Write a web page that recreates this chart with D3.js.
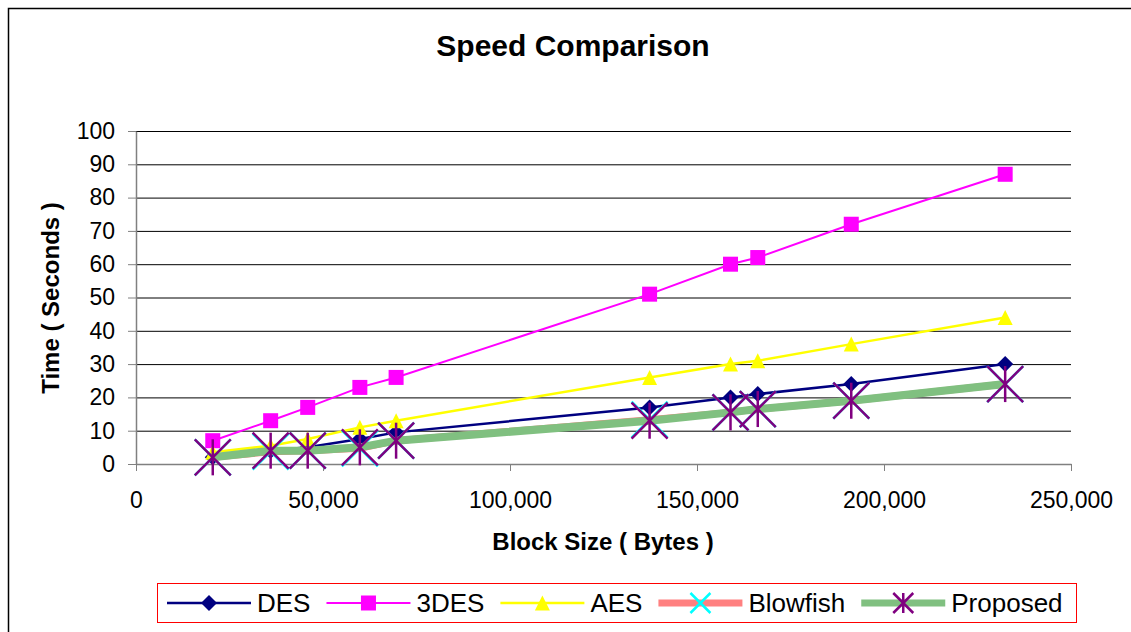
<!DOCTYPE html>
<html>
<head>
<meta charset="utf-8">
<script src="https://cdn.jsdelivr.net/npm/d3@7"></script>
<style>
  body { margin: 0; background: #fff; }
  text { font-family: Arial, "Liberation Sans", sans-serif; }
</style>
</head>
<body>
<div id="chart"></div>
<script>
// data
const blockSizes = [20527, 36002, 45911, 59852, 69545, 137325, 158959, 166250, 191246, 232398];
const desTimes = [2, 4, 5, 7.5, 9.5, 17, 20, 21, 24, 30];
const tripleDesTimes = [7, 13, 17, 23, 26, 51, 60, 62, 72, 87];
const aesTimes = [3.5, 5.5, 7.5, 11, 13, 26, 30, 31, 36, 44];
const blowfishTimes = [2, 3.7, 4, 4.7, 7, 13.3, 15.5, 16.5, 19, 24];
const proposedTimes = [2, 4, 4, 5, 7, 13, 15.5, 16.5, 19, 24];
const seriesNames = ['DES', '3DES', 'AES', 'Blowfish', 'Proposed'];
const xTicks = [0, 50000, 100000, 150000, 200000, 250000];
const yTicks = [0, 10, 20, 30, 40, 50, 60, 70, 80, 90, 100];

const W = 1131, H = 632;
const plotLeft = 136, plotRight = 1071, plotTop = 131, plotBottom = 464;

const series = [
  { name: seriesNames[0], values: desTimes, line: '#000080', width: 2.5, marker: 'diamond', mcolor: '#000080' },
  { name: seriesNames[1], values: tripleDesTimes, line: '#ff00ff', width: 2, marker: 'square', mcolor: '#ff00ff' },
  { name: seriesNames[2], values: aesTimes, line: '#ffff00', width: 2.5, marker: 'triangle', mcolor: '#ffff00' },
  { name: seriesNames[3], values: blowfishTimes, line: '#ff8080', width: 7, marker: 'x', mcolor: '#00ffff' },
  { name: seriesNames[4], values: proposedTimes, line: '#80c080', width: 8, marker: 'star', mcolor: '#800080' }
];

const svg = d3.select('#chart').append('svg')
    .attr('width', W)
    .attr('height', H);

// chart area border (runs off the right and bottom)
svg.append('rect')
    .attr('x', 8.5).attr('y', 8.5)
    .attr('width', 1200).attr('height', 700)
    .attr('fill', '#fff')
    .attr('stroke', '#000')
    .attr('stroke-width', 1.5);

const x = d3.scaleLinear().domain([0, 250000]).range([plotLeft, plotRight]);
const y = d3.scaleLinear().domain([0, 100]).range([plotBottom, plotTop]);

// gridlines
svg.append('g')
    .attr('transform', `translate(${plotLeft},0)`)
    .call(d3.axisLeft(y).tickValues(yTicks).tickSize(-(plotRight - plotLeft)).tickFormat(''))
    .call(g => g.select('.domain').remove())
    .call(g => g.selectAll('.tick line').attr('stroke', '#000').attr('stroke-width', 1));

// y axis
svg.append('g')
    .attr('transform', `translate(${plotLeft},0)`)
    .call(d3.axisLeft(y).tickValues(yTicks).tickSize(8).tickSizeOuter(0).tickPadding(13))
    .call(g => g.select('.domain').attr('stroke', '#808080').attr('stroke-width', 1.5))
    .call(g => g.selectAll('.tick line').attr('stroke', '#808080'))
    .call(g => g.selectAll('text').attr('font-size', 23).attr('fill', '#000')
        .style('font-family', 'Arial, "Liberation Sans", sans-serif'));

// x axis
svg.append('g')
    .attr('transform', `translate(0,${plotBottom})`)
    .call(d3.axisBottom(x).tickValues(xTicks).tickSize(7).tickSizeOuter(0).tickPadding(21)
        .tickFormat(d3.format(',')))
    .call(g => g.select('.domain').attr('stroke', '#808080').attr('stroke-width', 1.5))
    .call(g => g.selectAll('.tick line').attr('stroke', '#808080'))
    .call(g => g.selectAll('text').attr('font-size', 23).attr('fill', '#000')
        .style('font-family', 'Arial, "Liberation Sans", sans-serif'));

// titles
svg.append('text')
    .attr('x', 573).attr('y', 56)
    .attr('text-anchor', 'middle')
    .attr('font-size', 30).attr('font-weight', 'bold')
    .text('Speed Comparison');

svg.append('text')
    .attr('x', 603).attr('y', 550)
    .attr('text-anchor', 'middle')
    .attr('font-size', 24).attr('font-weight', 'bold')
    .text('Block Size ( Bytes )');

svg.append('text')
    .attr('transform', 'translate(59,298) rotate(-90)')
    .attr('text-anchor', 'middle')
    .attr('font-size', 24).attr('font-weight', 'bold')
    .text('Time ( Seconds )');

// marker drawing
function drawMarker(g, type, color, s) {
  if (type === 'diamond') {
    g.append('path').attr('d', `M0,${-s}L${s},0L0,${s}L${-s},0Z`).attr('fill', color);
  } else if (type === 'square') {
    g.append('rect').attr('x', -s).attr('y', -s).attr('width', 2 * s).attr('height', 2 * s).attr('fill', color);
  } else if (type === 'triangle') {
    g.append('path').attr('d', `M0,${-s}L${s},${s}L${-s},${s}Z`).attr('fill', color);
  } else {
    g.append('path').attr('d', `M${-s},${-s}L${s},${s}M${s},${-s}L${-s},${s}`)
        .attr('stroke', color).attr('stroke-width', 2.5).attr('fill', 'none');
    if (type === 'star') {
      g.append('path').attr('d', `M0,${-s}L0,${s}`)
          .attr('stroke', color).attr('stroke-width', 2.5);
    }
  }
}

const markerSize = { diamond: 8, square: 7.5, triangle: 7.5, x: 18, star: 18 };

const line = d3.line()
    .x((d, i) => x(blockSizes[i]))
    .y(d => y(d));

series.forEach(s => {
  svg.append('path')
      .datum(s.values)
      .attr('d', line)
      .attr('fill', 'none')
      .attr('stroke', s.line)
      .attr('stroke-width', s.width);

  s.values.forEach((v, i) => {
    const g = svg.append('g').attr('transform', `translate(${x(blockSizes[i])},${y(v)})`);
    drawMarker(g, s.marker, s.mcolor, markerSize[s.marker]);
  });
});

// legend
const legend = svg.append('g');
legend.append('rect')
    .attr('x', 157.5).attr('y', 583.5)
    .attr('width', 919).attr('height', 39)
    .attr('fill', '#fff')
    .attr('stroke', '#ff0000')
    .attr('stroke-width', 1);

let lx = 167;
const ly = 603;
series.forEach(s => {
  legend.append('line')
      .attr('x1', lx).attr('x2', lx + 84)
      .attr('y1', ly).attr('y2', ly)
      .attr('stroke', s.line)
      .attr('stroke-width', Math.min(s.width, 7));
  const g = legend.append('g').attr('transform', `translate(${lx + 42},${ly})`);
  const ms = (s.marker === 'x' || s.marker === 'star') ? 10 : markerSize[s.marker];
  drawMarker(g, s.marker, s.mcolor, ms);
  const t = legend.append('text')
      .attr('x', lx + 90).attr('y', ly + 9)
      .attr('font-size', 26)
      .text(s.name);
  lx += 90 + t.node().getComputedTextLength() + 16;
});
</script>
</body>
</html>
